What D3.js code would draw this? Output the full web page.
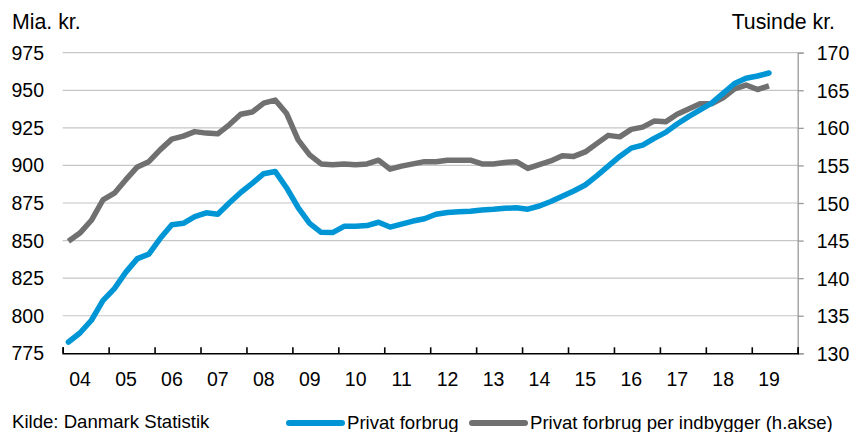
<!DOCTYPE html>
<html>
<head>
<meta charset="utf-8">
<script src="https://cdn.jsdelivr.net/npm/d3@7"></script>
<style>
  body { margin: 0; background: #fff; }
  svg text { font-family: "Liberation Sans", Arial, sans-serif; fill: #000; }
</style>
</head>
<body>
<script>
// x-akse: år (kvartalsdata 2004K1 - 2019K2)
var yearLabels = ["04","05","06","07","08","09","10","11","12","13","14","15","16","17","18","19"];
var leftTicks = [775, 800, 825, 850, 875, 900, 925, 950, 975];
var rightTicks = [130, 135, 140, 145, 150, 155, 160, 165, 170];

// Privat forbrug, mia. kr. (v.akse)
var privatForbrug = [
  782.5, 788.5, 797, 810, 818, 829, 838, 841,
  851.5, 860.5, 861.5, 866, 868.5, 867.5, 875, 882,
  888, 894.5, 896, 885, 872, 861.5, 855.5, 855.3,
  859.5, 859.5, 860, 862.2, 859, 861, 863, 864.5,
  867.5, 868.7, 869.2, 869.5, 870.3, 870.8, 871.5, 871.8,
  870.9, 873, 876, 879.5, 883, 887, 893, 899.5,
  906, 911.5, 913.5, 918, 922, 927.6, 932.5, 937,
  941.5, 948, 954.5, 958, 959.5, 961.5
];

// Privat forbrug per indbygger, tusinde kr. (h.akse)
var perIndbygger = [
  144.9, 146.0, 147.7, 150.4, 151.3, 153.1, 154.8, 155.5,
  157.1, 158.5, 158.9, 159.5, 159.3, 159.2, 160.4, 161.8,
  162.1, 163.3, 163.7, 161.9, 158.4, 156.4, 155.2, 155.1,
  155.2, 155.1, 155.2, 155.7, 154.5, 154.9, 155.2, 155.5,
  155.5, 155.7, 155.7, 155.7, 155.2, 155.2, 155.4, 155.5,
  154.6, 155.1, 155.6, 156.3, 156.2, 156.8, 157.9, 159.0,
  158.8, 159.8, 160.1, 160.9, 160.8, 161.8, 162.5, 163.2,
  163.2, 164.0, 165.2, 165.7, 165.1, 165.6
];

var seriesNames = ["Privat forbrug", "Privat forbrug per indbygger (h.akse)"];
var colors = ["#0096d6", "#707070"];

var width = 854, height = 432;
var margin = {top: 52.7, right: 56.3, bottom: 78.7, left: 62.7};

var svg = d3.select("body").append("svg")
  .attr("width", width)
  .attr("height", height);

var firstYear = 2004;
var x = d3.scaleLinear()
  .domain([firstYear, firstYear + yearLabels.length])
  .range([margin.left, width - margin.right]);

var yLeft = d3.scaleLinear()
  .domain([775, 975])
  .range([height - margin.bottom, margin.top]);

var yRight = d3.scaleLinear()
  .domain([130, 170])
  .range([height - margin.bottom, margin.top]);

// kvartal i -> tidspunkt midt i kvartalet
function qTime(i) { return firstYear + (i + 0.5) / 4; }

// gridlines
svg.append("g")
  .selectAll("line")
  .data(leftTicks.slice(1))
  .enter().append("line")
  .attr("x1", x.range()[0])
  .attr("x2", x.range()[1])
  .attr("y1", function(d) { return yLeft(d); })
  .attr("y2", function(d) { return yLeft(d); })
  .attr("stroke", "#c6c6c6")
  .attr("stroke-width", 1.2);

// venstre akse (kun tal)
svg.append("g")
  .selectAll("text")
  .data(leftTicks)
  .enter().append("text")
  .attr("x", 44)
  .attr("y", function(d) { return yLeft(d) + 7; })
  .attr("text-anchor", "end")
  .style("font-size", "19.5px")
  .text(function(d) { return d; });

// højre akse
var rightAxis = svg.append("g")
  .attr("transform", "translate(" + x.range()[1] + ",0)")
  .call(d3.axisRight(yRight).tickValues(rightTicks).tickSize(6).tickPadding(13));
rightAxis.select(".domain").attr("stroke", "#9a9a9a").attr("stroke-width", 1.3);
rightAxis.selectAll(".tick line").attr("stroke", "#9a9a9a").attr("stroke-width", 1.3);
rightAxis.selectAll(".tick text")
  .style("font-size", "19.5px")
  .style("font-family", "'Liberation Sans', Arial, sans-serif")
  .attr("fill", "#000")
  .attr("dy", "0.36em");

// x-akse
var yearTicks = d3.range(firstYear, firstYear + yearLabels.length + 1);
var xAxis = svg.append("g")
  .attr("transform", "translate(0," + yLeft(775) + ")")
  .call(d3.axisBottom(x).tickValues(yearTicks).tickSize(-6).tickFormat(""));
xAxis.select(".domain").attr("stroke", "#000").attr("stroke-width", 1.6);
xAxis.selectAll(".tick line").attr("stroke", "#000").attr("stroke-width", 1.6);

svg.append("g")
  .selectAll("text")
  .data(yearLabels)
  .enter().append("text")
  .attr("x", function(d, i) { return x(firstYear + i + 0.5) - 5.6; })
  .attr("y", 386)
  .attr("text-anchor", "middle")
  .style("font-size", "19.5px")
  .text(function(d) { return d; });

// enheder
svg.append("text").attr("x", 12).attr("y", 29).style("font-size", "21.3px").text("Mia. kr.");
svg.append("text").attr("x", 835).attr("y", 29).attr("text-anchor", "end")
  .style("font-size", "21.3px").text("Tusinde kr.");

// linjer
var lineLeft = d3.line()
  .x(function(d, i) { return x(qTime(i)); })
  .y(function(d) { return yLeft(d); });
var lineRight = d3.line()
  .x(function(d, i) { return x(qTime(i)); })
  .y(function(d) { return yRight(d); });

svg.append("path")
  .datum(perIndbygger)
  .attr("d", lineRight)
  .attr("fill", "none")
  .attr("stroke", colors[1])
  .attr("stroke-width", 5.5)
  .attr("stroke-linejoin", "round");

svg.append("path")
  .datum(privatForbrug)
  .attr("d", lineLeft)
  .attr("fill", "none")
  .attr("stroke", colors[0])
  .attr("stroke-width", 5.5)
  .attr("stroke-linejoin", "round")
  .attr("stroke-linecap", "round");

// kilde
svg.append("text").attr("x", 12).attr("y", 428).style("font-size", "18.6px")
  .text("Kilde: Danmark Statistik");

// legende
var legendX = [289, 472];
var legend = svg.selectAll(".legend")
  .data(seriesNames)
  .enter().append("g")
  .attr("class", "legend")
  .attr("transform", function(d, i) { return "translate(" + legendX[i] + ",423)"; });

legend.append("line")
  .attr("x1", 0).attr("x2", 53)
  .attr("stroke", function(d, i) { return colors[i]; })
  .attr("stroke-width", 6)
  .attr("stroke-linecap", "round");

legend.append("text")
  .attr("x", 58)
  .attr("y", 5.5)
  .style("font-size", "18.6px")
  .text(function(d) { return d; });
</script>
</body>
</html>
